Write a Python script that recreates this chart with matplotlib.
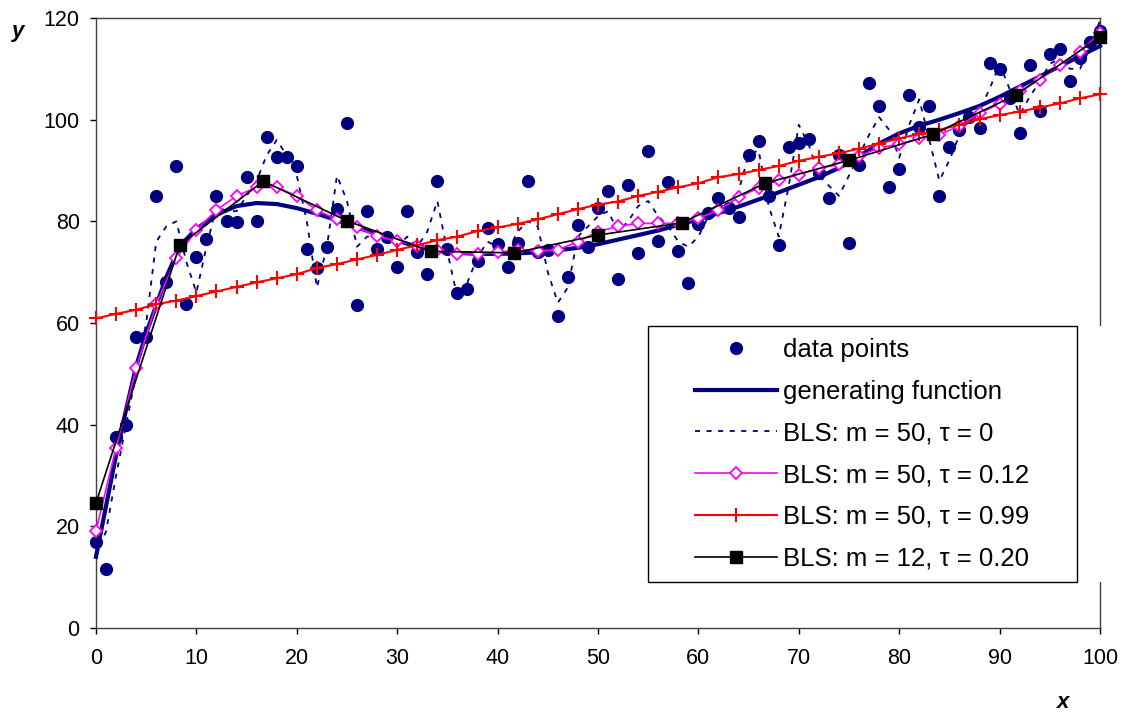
import numpy as np
import matplotlib.pyplot as plt
from matplotlib.patches import Rectangle

plt.rcParams["font.family"] = ["Liberation Sans", "DejaVu Sans"]

# data points, x = 0..100
data_x = np.arange(0, 101)
data_y = [
    17.0, 11.6, 37.6, 40.0, 57.2, 57.2, 84.9, 68.0, 90.8, 63.7,
    73.0, 76.6, 84.9, 80.0, 79.8, 88.8, 80.1, 96.6, 92.7, 92.7,
    90.9, 74.6, 70.9, 75.0, 82.5, 99.4, 63.5, 82.1, 74.6, 77.0,
    71.1, 82.1, 74.0, 69.6, 88.0, 74.6, 66.0, 66.7, 72.2, 78.6,
    75.5, 71.1, 75.7, 88.0, 74.0, 74.4, 61.3, 69.1, 79.3, 75.0,
    82.6, 86.0, 68.7, 87.2, 73.8, 93.9, 76.1, 87.7, 74.2, 67.9,
    79.5, 81.6, 84.5, 82.6, 80.9, 93.1, 95.9, 84.9, 75.3, 94.7,
    95.5, 96.2, 89.5, 84.5, 93.0, 75.8, 91.0, 107.3, 102.6, 86.8,
    90.3, 104.9, 98.6, 102.6, 84.9, 94.7, 98.0, 100.6, 98.3, 111.2,
    110.0, 104.2, 97.4, 110.8, 101.7, 112.9, 114.0, 107.7, 112.1, 115.2,
    117.5,
]

# generating function
gen_x = [0, 1, 2, 3, 4, 5, 6, 7, 8, 9, 10, 12, 14, 16, 18, 20, 22, 24, 26, 28,
         30, 32, 34, 36, 38, 40, 42, 44, 46, 48, 50, 52, 54, 56, 58, 60, 62, 64,
         66, 68, 70, 72, 74, 76, 78, 80, 82, 84, 86, 88, 90, 92, 94, 96, 98, 100]
gen_y = [14.0, 24.0, 34.0, 43.0, 51.5, 58.0, 63.5, 69.0, 73.5, 76.5, 78.5,
         81.3, 83.0, 83.6, 83.4, 82.6, 81.5, 80.2, 78.8, 77.5, 76.2, 75.0,
         74.2, 73.8, 73.6, 73.6, 73.7, 73.9, 74.3, 74.8, 75.5, 76.4, 77.3,
         78.2, 79.3, 80.4, 81.6, 82.9, 84.3, 85.7, 87.2, 88.7, 90.5, 92.8,
         95.3, 97.3, 98.8, 100.0, 101.3, 102.7, 104.5, 106.5, 108.5, 110.5,
         112.5, 114.5]

# BLS m = 50, tau = 0 (x = 0..100)
bls0_y = [
    14, 19, 30, 40, 50, 60, 76, 79, 80, 72,
    66, 75, 83, 82, 82, 85, 88, 93, 96, 93,
    89, 80, 67, 75, 89, 84, 75, 77, 77, 76,
    75, 77, 75, 78, 84, 74, 65, 68, 73, 76,
    75, 74, 78, 80, 79, 70, 64, 67, 77, 79,
    81, 82, 78, 80, 83, 84, 81, 79, 76, 75,
    77, 81, 83, 83, 86, 93, 94, 83, 77, 87,
    99, 95, 89, 87, 85, 89, 93, 97, 100.5, 98,
    92.5, 99, 104, 96, 88, 92, 97, 100, 102, 106,
    111, 106, 101, 104.5, 107.5, 111, 112, 110, 110, 114,
    119.5,
]

# BLS m = 50, nodes every 2
node_x = np.arange(0, 101, 2)
bls12_y = [19.1, 35.5, 51.1, 63.7, 72.7, 78.3, 82.2, 85.0, 86.7, 86.7,
           85.0, 82.2, 80.4, 78.8, 77.1, 76.1, 75.2, 74.4, 73.6, 73.6,
           73.9, 74.4, 74.2, 74.4, 76.0, 78.0, 79.0, 79.6, 79.6, 79.6,
           80.6, 82.2, 84.7, 86.6, 88.1, 89.2, 90.4, 91.2, 92.8, 94.5,
           95.2, 96.3, 97.0, 98.8, 101.3, 103.1, 105.6, 107.9, 110.7, 113.4,
           117.0]
bls99_y = [60.9, 61.8, 62.6, 63.7, 64.4, 65.3, 66.2, 67.1, 68.0, 68.8,
           69.6, 70.8, 71.6, 72.5, 73.4, 74.4, 75.3, 76.3, 77.0, 78.1,
           78.8, 79.5, 80.4, 81.4, 82.4, 83.3, 83.9, 85.0, 85.8, 86.7,
           87.5, 88.7, 89.3, 90.1, 90.9, 91.9, 92.7, 93.4, 94.3, 95.3,
           96.3, 97.2, 98.0, 99.0, 100.1, 100.9, 101.6, 102.4, 103.2, 104.2,
           105.0]

# BLS m = 12
m12_x = np.linspace(0, 100, 13)
m12_y = [24.6, 75.3, 87.9, 80.1, 74.1, 73.8, 77.3, 79.7, 87.5, 92.0,
         97.1, 104.9, 116.3]

fig = plt.figure(figsize=(11.23, 7.13), dpi=100)
ax = fig.add_axes([96 / 1123, 85 / 713, 1004 / 1123, 610 / 713])

navy = "#000080"
ax.plot(data_x, data_y, "o", color=navy, markersize=8.5, clip_on=False,
        label="data points", zorder=3)
ax.plot(gen_x, gen_y, "-", color=navy, linewidth=3, clip_on=False,
        label="generating function", zorder=4)
ax.plot(data_x, bls0_y, color=navy, linewidth=1.3, linestyle=(0, (2.8, 3.6)),
        clip_on=False, label="BLS: m = 50, τ = 0", zorder=4)
ax.plot(node_x, bls12_y, "-", color="#FF00FF", linewidth=1.2, marker="D",
        markersize=6.5, markerfacecolor="white", markeredgewidth=1.3,
        clip_on=False, label="BLS: m = 50, τ = 0.12", zorder=5)
ax.plot(node_x, bls99_y, "-", color="#FF0000", linewidth=1.5, marker="+",
        markersize=10, markeredgewidth=1.5, clip_on=False,
        label="BLS: m = 50, τ = 0.99", zorder=6)
ax.plot(m12_x, m12_y, "-", color="black", linewidth=1.2, marker="s",
        markersize=8, clip_on=False, label="BLS: m = 12, τ = 0.20", zorder=7)

ax.set_xlim(0, 100)
ax.set_ylim(0, 120)
ax.set_xticks(range(0, 101, 10))
ax.set_yticks(range(0, 121, 20))
ax.tick_params(direction="out", length=4.2, width=1, labelsize=15.5,
               colors="black")
ax.tick_params(axis="x", pad=10)
ax.tick_params(axis="y", pad=7.5)
for s in ax.spines.values():
    s.set_color("#404040")
    s.set_linewidth(1)

fig.text(18 / 1123, 1 - 31 / 713, "y", fontsize=16, fontweight="bold",
         fontstyle="italic", ha="center", va="center")
fig.text(1063 / 1123, 1 - 702 / 713, "x", fontsize=16, fontweight="bold",
         fontstyle="italic", ha="center", va="center")

# legend box (also hides the right border behind it)
ax.add_patch(Rectangle((0.97, 0.0754), 0.05, 0.4197, transform=ax.transAxes,
                       facecolor="white", edgecolor="none", zorder=8,
                       clip_on=False))
ax.add_patch(Rectangle((0.5498, 0.0754), 0.4273, 0.4197, transform=ax.transAxes,
                       facecolor="white", edgecolor="black", linewidth=1,
                       zorder=9, clip_on=False))
leg = ax.legend(loc="upper left", bbox_to_anchor=(0.5966, 0.4755),
                borderaxespad=0, borderpad=0, frameon=False, fontsize=18.5,
                handlelength=3.2, handletextpad=0.23, labelspacing=0.69,
                numpoints=1)
leg.set_zorder(10)

fig.savefig("out.png", dpi=100)
